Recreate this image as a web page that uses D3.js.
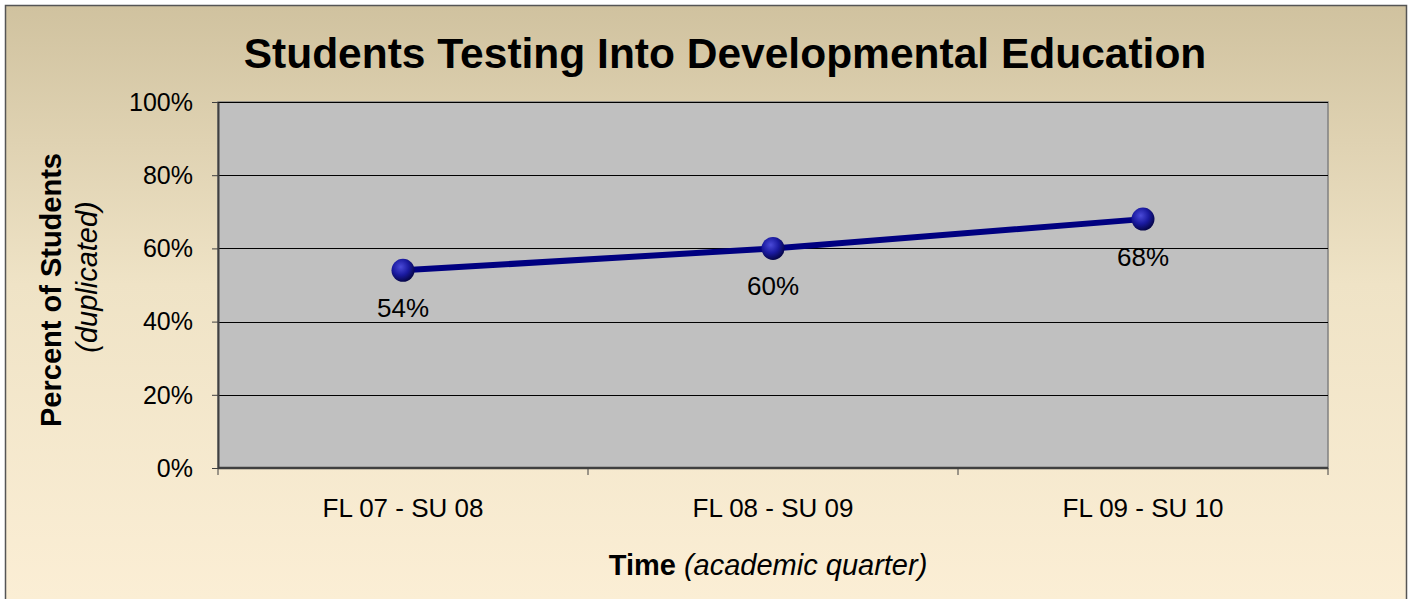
<!DOCTYPE html>
<html>
<head>
<meta charset="utf-8">
<script src="https://cdn.jsdelivr.net/npm/d3@7"></script>
<style>
  body { margin: 0; background: #fff; }
  svg text { font-family: "Liberation Sans", Arial, sans-serif; fill: #000; }
</style>
</head>
<body>
<div class="chart"></div>
<script>
var categories = ["FL 07 - SU 08", "FL 08 - SU 09", "FL 09 - SU 10"];
var percents = [54, 60, 68];
var yTicks = [0, 20, 40, 60, 80, 100];

var svgWidth = 1413;
var svgHeight = 599;

var margin = { top: 102, bottom: 131, left: 218, right: 85 };
var width = svgWidth - margin.left - margin.right;
var height = svgHeight - margin.top - margin.bottom;

var svg = d3.select(".chart")
  .append("svg")
  .attr("width", svgWidth)
  .attr("height", svgHeight);

var defs = svg.append("defs");

var bg = defs.append("linearGradient")
  .attr("id", "bg")
  .attr("x1", 0).attr("y1", 0).attr("x2", 0).attr("y2", 1);
bg.append("stop").attr("offset", "0%").attr("stop-color", "#d0c29f");
bg.append("stop").attr("offset", "45%").attr("stop-color", "#efe3c6");
bg.append("stop").attr("offset", "100%").attr("stop-color", "#fcefd6");

var ball = defs.append("radialGradient")
  .attr("id", "ball")
  .attr("cx", "40%").attr("cy", "35%").attr("r", "65%");
ball.append("stop").attr("offset", "0%").attr("stop-color", "#4a4ad8");
ball.append("stop").attr("offset", "55%").attr("stop-color", "#1a1aa0");
ball.append("stop").attr("offset", "100%").attr("stop-color", "#06064a");

// outer chart area
svg.append("rect")
  .attr("x", 5.5).attr("y", 5.5)
  .attr("width", 1401).attr("height", 620)
  .attr("fill", "url(#bg)")
  .attr("stroke", "#555")
  .attr("stroke-width", 1.5);

var chartGroup = svg.append("g")
  .attr("transform", `translate(${margin.left}, ${margin.top})`);

var xScale = d3.scaleBand()
  .domain(categories)
  .range([0, width]);

var yScale = d3.scaleLinear()
  .domain([0, 100])
  .range([height, 0]);

// plot area
chartGroup.append("rect")
  .attr("width", width)
  .attr("height", height)
  .attr("fill", "#c0c0c0")
  .attr("stroke", "#808080")
  .attr("stroke-width", 1.5);

// gridlines
chartGroup.selectAll(".grid")
  .data(yTicks.filter(d => d > 0))
  .enter()
  .append("line")
  .attr("x1", 0).attr("x2", width)
  .attr("y1", d => Math.round(yScale(d)) + 0.5)
  .attr("y2", d => Math.round(yScale(d)) + 0.5)
  .attr("stroke", "#000")
  .attr("stroke-width", 1);

// y axis
var yAxis = d3.axisLeft(yScale)
  .tickValues(yTicks)
  .tickFormat(d => d + "%")
  .tickSizeInner(6)
  .tickSizeOuter(0)
  .tickPadding(19);

var yAxisG = chartGroup.append("g").call(yAxis);
yAxisG.select(".domain").attr("stroke", "#404040").attr("stroke-width", 2);
yAxisG.selectAll(".tick line").attr("stroke", "#404040");
yAxisG.selectAll("text").style("font-size", "25px").attr("dy", "0.33em");

// x axis with ticks at category boundaries
var xAxisG = chartGroup.append("g")
  .attr("transform", `translate(0, ${height})`);
xAxisG.append("line")
  .attr("x1", 0).attr("x2", width)
  .attr("stroke", "#404040").attr("stroke-width", 2.5);
var bounds = categories.map(c => xScale(c)).concat([width]);
xAxisG.selectAll(".xtick")
  .data(bounds)
  .enter()
  .append("line")
  .attr("x1", d => d).attr("x2", d => d)
  .attr("y1", 0).attr("y2", 7)
  .attr("stroke", "#404040");
xAxisG.selectAll(".xlabel")
  .data(categories)
  .enter()
  .append("text")
  .attr("x", d => xScale(d) + xScale.bandwidth() / 2)
  .attr("y", 49)
  .attr("text-anchor", "middle")
  .style("font-size", "26px")
  .text(d => d);

// line
var points = categories.map((c, i) => ({ cat: c, value: percents[i] }));
var line = d3.line()
  .x(d => xScale(d.cat) + xScale.bandwidth() / 2)
  .y(d => yScale(d.value));

chartGroup.append("path")
  .datum(points)
  .attr("d", line)
  .attr("fill", "none")
  .attr("stroke", "#000080")
  .attr("stroke-width", 6);

chartGroup.selectAll(".dot")
  .data(points)
  .enter()
  .append("circle")
  .attr("cx", d => xScale(d.cat) + xScale.bandwidth() / 2)
  .attr("cy", d => yScale(d.value))
  .attr("r", 11.5)
  .attr("fill", "url(#ball)");

// data labels
chartGroup.selectAll(".lbl")
  .data(points)
  .enter()
  .append("text")
  .attr("x", d => xScale(d.cat) + xScale.bandwidth() / 2)
  .attr("y", d => yScale(d.value) + 47)
  .attr("text-anchor", "middle")
  .style("font-size", "26px")
  .text(d => d.value + "%");

// title
svg.append("text")
  .attr("x", 725)
  .attr("y", 68)
  .attr("text-anchor", "middle")
  .style("font-size", "42.5px")
  .style("font-weight", "bold")
  .text("Students Testing Into Developmental Education");

// y axis title
svg.append("text")
  .attr("transform", "translate(61, 290) rotate(-90)")
  .attr("text-anchor", "middle")
  .style("font-size", "29px")
  .style("font-weight", "bold")
  .text("Percent of Students");
svg.append("text")
  .attr("transform", "translate(97, 277) rotate(-90)")
  .attr("text-anchor", "middle")
  .style("font-size", "29px")
  .style("font-style", "italic")
  .text("(duplicated)");

// x axis title
var xTitle = svg.append("text")
  .attr("x", 768)
  .attr("y", 575)
  .attr("text-anchor", "middle")
  .style("font-size", "29px");
xTitle.append("tspan").style("font-weight", "bold").text("Time ");
xTitle.append("tspan").style("font-style", "italic").text("(academic quarter)");
</script>
</body>
</html>
